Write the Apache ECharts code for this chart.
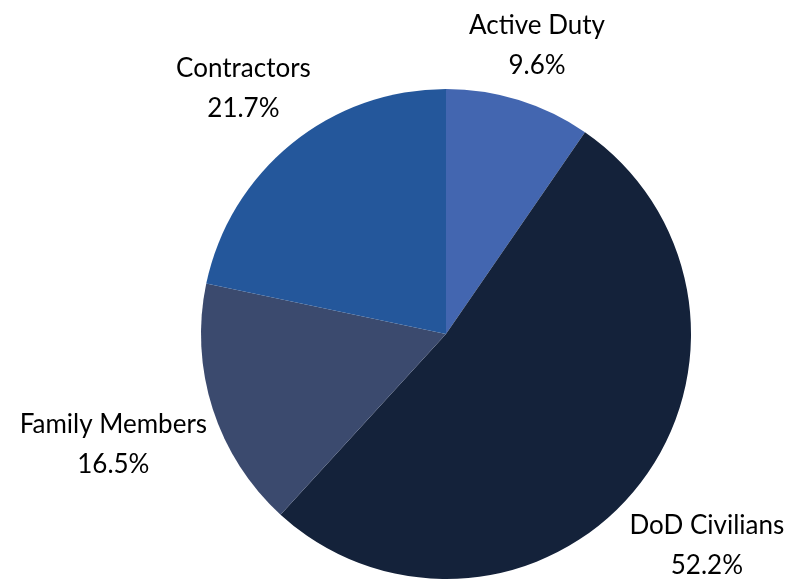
<!DOCTYPE html>
<html><head><meta charset="utf-8">
<script src="https://cdn.jsdelivr.net/npm/echarts@6/dist/echarts.min.js"></script>
<style>html,body{margin:0;padding:0;background:#fff}#c{width:796px;height:581px}</style>
</head><body><div id="c"></div>
<script>
const categories = ['Active Duty', 'DoD Civilians', 'Family Members', 'Contractors'];
const values = [9.6, 52.2, 16.5, 21.7];
const colors = ['#4366B0', '#14223A', '#3B4A6E', '#24579B'];

const CX = 446, CY = 334, R = 245, GAP = 3;
const total = values.reduce((a, b) => a + b, 0);
const midAngles = [];
let acc = 0;
values.forEach(v => { midAngles.push((acc + v / 2) / total * 2 * Math.PI); acc += v; });

const chart = echarts.init(document.getElementById('c'));
chart.setOption({
  animation: false,
  series: [{
    type: 'pie',
    center: [CX, CY],
    radius: R,
    startAngle: 90,
    clockwise: true,
    data: categories.map((n, i) => ({ name: n, value: values[i], itemStyle: { color: colors[i] } })),
    label: {
      show: true,
      position: 'outside',
      formatter: p => p.name + '\n' + p.value.toFixed(1) + '%',
      fontFamily: 'Lato',
      fontSize: 26,
      lineHeight: 40,
      color: '#000',
      align: 'center',
      overflow: 'none'
    },
    labelLine: { show: false },
    labelLayout: function (p) {
      const a = midAngles[p.dataIndex];
      const ux = Math.sin(a), uy = -Math.cos(a);
      const w = p.labelRect.width, h = p.labelRect.height;
      const d = R + GAP + Math.abs(ux) * w / 2 + Math.abs(uy) * h / 2;
      return { x: CX + ux * d, y: CY + uy * d + 4, align: 'center', verticalAlign: 'middle' };
    }
  }]
});
</script></body></html>
